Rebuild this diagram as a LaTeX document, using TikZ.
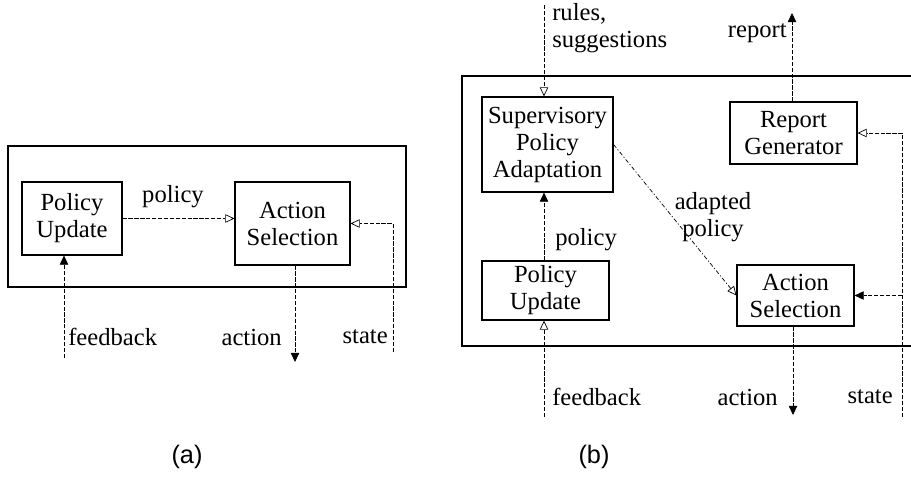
\documentclass[tikz,border=0pt]{standalone}
\usepackage{fontspec}
\setmainfont{Liberation Serif}
\setsansfont{Liberation Sans}
\usetikzlibrary{arrows.meta,positioning}

\begin{document}
\begin{tikzpicture}[x=0.025cm, y=-0.025cm,
    every node/.style={align=center, font=\fontsize{17.5}{19.2}\selectfont},
    blk/.style={draw, line width=0.8pt, inner sep=0pt},
    frame/.style={line width=0.9pt},
    lbl/.style={inner sep=0pt},
    flow/.style={line width=0.5pt, dash pattern=on 3pt off 1.2pt,
      -{Triangle[open,length=6.5pt,width=6pt]}},
    flowf/.style={line width=0.5pt, dash pattern=on 3pt off 1.2pt,
      -{Triangle[length=6.5pt,width=6pt]}}]
  \useasboundingbox (0,0) rectangle (911,478);

  % (a) plain learner
  \draw[frame] (8,146) rectangle (406,287);
  \node[blk,minimum width=2.5cm,minimum height=1.825cm] (pua) at (72,218.5)
    {Policy\\Update};
  \node[blk,minimum width=2.875cm,minimum height=2.075cm] (asa) at (292.5,223.5)
    {Action\\Selection};
  \coordinate (fa) at (64,358);
  \coordinate (aa) at (295,362);
  \coordinate (sa) at (393,352);
  \draw[flow] (pua.east) -- (asa.west |- pua.east);
  \draw[flowf] (fa) -- (fa |- pua.south);
  \draw[flowf] (aa |- asa.south) -- (aa);
  \draw[flow] (sa) |- (asa.east);
  \node[lbl] (pola) at (173,197) {policy};
  \node[lbl,anchor=west] (fba) at (68,337) {feedback};
  \node[lbl,anchor=east] (aca) at (282,337) {action};
  \node[lbl,anchor=east] (sta) at (388,337) {state};
  \node[font=\sffamily\fontsize{18}{19.2}\selectfont] (capa) at (187,457) {(a)};

  % (b) supervised learner
  \draw[frame] (912,76) -- (462,76) -- (462,346) -- (912,346);
  \node[blk,minimum width=3.275cm,minimum height=2.375cm] (spa) at (547.5,144.5)
    {Supervisory\\Policy\\Adaptation};
  \node[blk,minimum width=3.175cm,minimum height=1.55cm] (rg) at (793.5,133)
    {Report\\Generator};
  \node[blk,minimum width=3.175cm,minimum height=1.475cm] (pub) at (545.5,290.5)
    {Policy\\Update};
  \node[blk,minimum width=2.925cm,minimum height=1.525cm] (asb) at (795.5,295.5)
    {Action\\Selection};
  \coordinate (rb) at (544,5);
  \coordinate (rp) at (792,13);
  \coordinate (fb) at (544,417);
  \coordinate (ab) at (793,415);
  \coordinate (sb) at (902,417);
  \draw[flow] (rb) -- (rb |- spa.north);
  \draw[flowf] (rp |- rg.north) -- (rp);
  \draw[flowf] (fb |- pub.north) -- (fb |- spa.south);
  \draw[flow,dash pattern=on 3pt off 1.5pt on 0.8pt off 1.5pt] (spa.east) -- (asb.west);
  \draw[flow] (fb) -- (fb |- pub.south);
  \draw[flowf] (ab |- asb.south) -- (ab);
  \draw[flow] (sb) |- (rg.east);
  \draw[flowf] (sb |- asb.east) -- (asb.east);
  \node[lbl,anchor=west,align=left] (rul) at (552,28) {rules,\\suggestions};
  \node[lbl,anchor=east] (rep) at (787,33) {report};
  \node[lbl,anchor=west] (polb) at (555,240) {policy};
  \node[lbl] (adp) at (713,217) {adapted\\policy};
  \node[lbl,anchor=west] (fbb) at (552,397) {feedback};
  \node[lbl,anchor=east] (acb) at (778,397) {action};
  \node[lbl,anchor=east] (stb) at (893,397) {state};
  \node[font=\sffamily\fontsize{18}{19.2}\selectfont] (capb) at (594,457) {(b)};
\end{tikzpicture}
\end{document}
